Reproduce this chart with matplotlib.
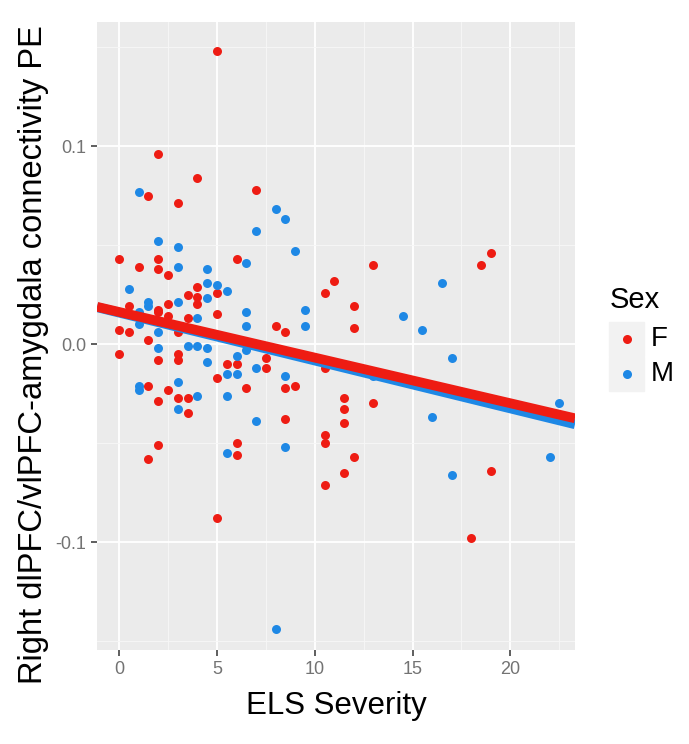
import numpy as np
import matplotlib
matplotlib.use("Agg")
import matplotlib.pyplot as plt
from matplotlib.lines import Line2D
from matplotlib.patches import Rectangle

plt.rcParams['font.family'] = ['Liberation Sans', 'DejaVu Sans']

# points, female
F_x = [5, 2, 4, 1.5, 7, 3, 0, 2, 6, 1, 2, 2.5, 10.5, 11, 4, 5, 3.5, 4, 4, 2.5,
       0.5, 2, 2.5, 5, 8, 8.5, 3.5, 0, 0.5, 3, 1.5, 2, 0, 2, 3, 3, 5.5, 6, 7.5,
       7.5, 5, 8.5, 9, 10.5, 6.5, 1.5, 2.5, 2, 3, 3.5, 3.5, 8.5, 6, 6, 2, 1.5,
       5, 10.5, 10.5, 10.5, 11.5, 11.5, 11.5, 11.5, 12, 12, 13, 18.5, 19, 13,
       12, 19, 18]
F_y = [0.148, 0.096, 0.084, 0.075, 0.078, 0.071, 0.043, 0.043, 0.043, 0.039,
       0.038, 0.035, 0.026, 0.032, 0.029, 0.026, 0.025, 0.024, 0.020, 0.020,
       0.019, 0.016, 0.014, 0.015, 0.009, 0.006, 0.013, 0.007, 0.006, 0.006,
       0.002, 0.017, -0.005, -0.008, -0.005, -0.008, -0.010, -0.010, -0.007,
       -0.012, -0.017, -0.022, -0.021, -0.012, -0.022, -0.021, -0.023, -0.029,
       -0.027, -0.027, -0.035, -0.038, -0.050, -0.056, -0.051, -0.058, -0.088,
       -0.046, -0.050, -0.071, -0.027, -0.033, -0.040, -0.065, 0.019, 0.008,
       0.040, 0.040, 0.046, -0.030, -0.057, -0.064, -0.098]

# male
M_x = [1, 8, 8.5, 7, 2, 3, 9, 6.5, 3, 4.5, 0.5, 4.5, 5, 5.5, 4.5, 3, 1.5, 1.5,
       1, 4, 6.5, 6.5, 9.5, 9.5, 1, 2, 2, 3.5, 4, 4.5, 4.5, 6, 6.5, 5.5, 6, 7,
       8.5, 3, 1, 1, 4, 3, 5.5, 7, 8.5, 5.5, 8, 14.5, 15.5, 16.5, 17, 13, 16,
       22.5, 17, 22]
M_y = [0.077, 0.068, 0.063, 0.057, 0.052, 0.049, 0.047, 0.041, 0.039, 0.038,
       0.028, 0.031, 0.030, 0.027, 0.023, 0.021, 0.021, 0.019, 0.016, 0.013,
       0.016, 0.009, 0.017, 0.009, 0.010, 0.006, -0.002, -0.001, -0.001,
       -0.002, -0.009, -0.006, -0.003, -0.015, -0.015, -0.012, -0.016, -0.019,
       -0.021, -0.023, -0.026, -0.033, -0.026, -0.039, -0.052, -0.055, -0.144,
       0.014, 0.007, 0.031, -0.007, -0.016, -0.037, -0.030, -0.066, -0.057]

# regression lines (ends)
line_x = [-1.13, 23.3]
F_line = [0.0188, -0.0375]
M_line = [0.0186, -0.0405]

red = '#EE1C13'
blue = '#1E88E5'

fig = plt.figure(figsize=(6.89, 7.44), dpi=100)
ax = fig.add_axes([0.1408, 0.1263, 0.6937, 0.8441])
ax.set_facecolor('#EBEBEB')

ax.scatter(F_x, F_y, s=42, color=red, linewidths=0, zorder=3)
ax.scatter(M_x, M_y, s=42, color=blue, linewidths=0, zorder=3)
ax.plot(line_x, M_line, color=blue, lw=7, solid_capstyle='butt', zorder=4)
ax.plot(line_x, F_line, color=red, lw=7, solid_capstyle='butt', zorder=5)

ax.set_xlim(-1.13, 23.3)
ax.set_ylim(-0.1545, 0.1626)
ax.set_xticks([0, 5, 10, 15, 20])
ax.set_xticks([2.5, 7.5, 12.5, 17.5, 22.5], minor=True)
ax.set_yticks([-0.1, 0.0, 0.1])
ax.set_yticks([-0.15, -0.05, 0.05, 0.15], minor=True)
ax.set_yticklabels(['-0.1', '0.0', '0.1'])
ax.grid(True, which='major', color='white', lw=1.3)
ax.grid(True, which='minor', color='#F7F7F7', lw=0.6)
ax.set_axisbelow(True)
for s in ax.spines.values():
    s.set_visible(False)
ax.tick_params(which='major', colors='#333333', length=4, width=1.1,
               labelsize=13, labelcolor='#737373', pad=4)
ax.tick_params(which='minor', length=0)

ax.set_xlabel('ELS Severity', fontsize=22.5, labelpad=9)
ax.set_ylabel('Right dlPFC/vlPFC-amygdala connectivity PE', fontsize=23.5)
ax.yaxis.set_label_coords(-0.10, 0.471)

# legend, drawn by hand in figure pixels
W, H = 689, 744
fig.text(610 / W, 1 - 308 / H, 'Sex', fontsize=21, va='baseline', ha='left')
for i, (lab, col) in enumerate([('F', red), ('M', blue)]):
    top = 322 + i * 35
    fig.patches.append(Rectangle((609 / W, 1 - (top + 34) / H), 35 / W, 34 / H,
                                 transform=fig.transFigure, color='#F2F2F2'))
    cy = top + 17
    fig.add_artist(Line2D([627 / W], [1 - cy / H], marker='o', ms=6.5,
                          color=col, mew=0, transform=fig.transFigure))
    fig.text(651 / W, 1 - cy / H, lab, fontsize=20, va='center', ha='left')

fig.savefig('out.png', dpi=100)
